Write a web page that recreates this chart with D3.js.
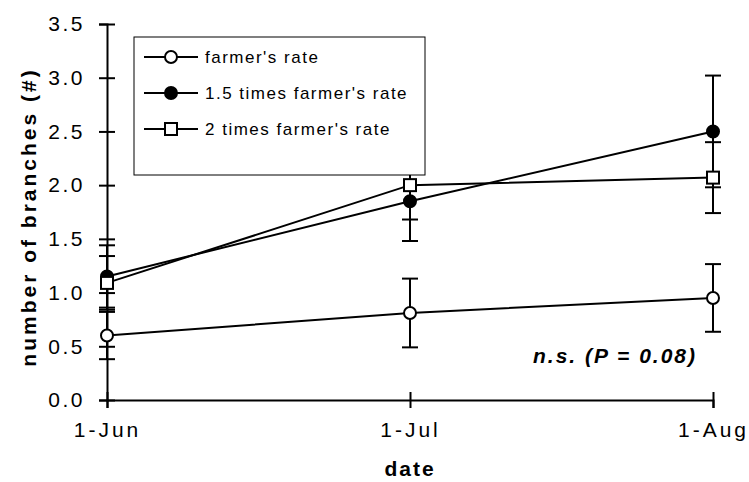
<!DOCTYPE html>
<html>
<head>
<meta charset="utf-8">
<script src="https://cdn.jsdelivr.net/npm/d3@7"></script>
<style>
  body { margin: 0; background: #fff; }
  text { font-family: Arial, "Liberation Sans", sans-serif; }
</style>
</head>
<body>
<div id="chart"></div>
<script>
var dates = ["1-Jun", "1-Jul", "1-Aug"];
var yTicks = [0, 0.5, 1, 1.5, 2, 2.5, 3, 3.5];

var seriesNames = ["farmer's rate", "1.5 times farmer's rate", "2 times farmer's rate"];
var farmerRate = [0.60, 0.81, 0.95];
var farmerErr = [0.22, 0.32, 0.315];
var rate15 = [1.15, 1.85, 2.50];
var rate15Err = [0.29, 0.37, 0.52];
var rate2 = [1.09, 2.00, 2.07];
var rate2Err = [0.25, 0.32, 0.33];

(function () {
  var width = 749,
    height = 482;

  var svg = d3.select("#chart")
    .append("svg")
    .attr("width", width)
    .attr("height", height);

  var x = d3.scalePoint().domain(dates).range([107, 713]);
  var y = d3.scaleLinear().domain([0, 3.5]).range([400, 24]);

  var series = [
    { name: seriesNames[0], values: farmerRate, err: farmerErr, marker: "circle", fill: "#fff" },
    { name: seriesNames[1], values: rate15, err: rate15Err, marker: "circle", fill: "#000" },
    { name: seriesNames[2], values: rate2, err: rate2Err, marker: "square", fill: "#fff" }
  ];

  // axes
  var yAxis = svg.append("g")
    .attr("transform", "translate(107,0)")
    .call(d3.axisLeft(y).tickValues(yTicks).tickSizeOuter(0).tickSize(8).tickPadding(14)
      .tickFormat(d3.format(".1f")));
  yAxis.selectAll(".tick line").attr("x1", 8).attr("stroke-width", 2);
  yAxis.select(".domain").attr("stroke-width", 2);
  yAxis.selectAll("text")
    .style("font-size", "21px")
    .style("letter-spacing", "2.5px")
    .attr("fill", "#000");

  var xAxis = svg.append("g")
    .attr("transform", "translate(0,400)")
    .call(d3.axisBottom(x).tickSizeOuter(0).tickSize(8).tickPadding(14));
  xAxis.selectAll(".tick line").attr("y1", -8).attr("stroke-width", 2);
  xAxis.select(".domain").attr("stroke-width", 2);
  xAxis.selectAll("text")
    .style("font-size", "21px")
    .style("letter-spacing", "3px")
    .attr("fill", "#000");

  // error bars
  series.forEach(function (s) {
    var g = svg.append("g");
    dates.forEach(function (d, i) {
      var cx = x(d),
        hi = y(s.values[i] + s.err[i]),
        lo = y(s.values[i] - s.err[i]);
      g.append("line").attr("x1", cx).attr("x2", cx).attr("y1", hi).attr("y2", lo)
        .attr("stroke", "#000").attr("stroke-width", 2);
      [hi, lo].forEach(function (yy) {
        g.append("line").attr("x1", cx - 8).attr("x2", cx + 8).attr("y1", yy).attr("y2", yy)
          .attr("stroke", "#000").attr("stroke-width", 2);
      });
    });
  });

  var line = d3.line()
    .x(function (d, i) { return x(dates[i]); })
    .y(function (d) { return y(d); });

  series.forEach(function (s) {
    svg.append("path")
      .datum(s.values)
      .attr("d", line)
      .attr("fill", "none")
      .attr("stroke", "#000")
      .attr("stroke-width", 2);
  });

  function drawMarker(g, s, cx, cy) {
    if (s.marker === "circle") {
      g.append("circle").attr("cx", cx).attr("cy", cy).attr("r", 6)
        .attr("fill", s.fill).attr("stroke", "#000").attr("stroke-width", 2);
    } else {
      g.append("rect").attr("x", cx - 6).attr("y", cy - 6).attr("width", 12).attr("height", 12)
        .attr("fill", s.fill).attr("stroke", "#000").attr("stroke-width", 2);
    }
  }

  series.forEach(function (s) {
    var g = svg.append("g");
    s.values.forEach(function (v, i) {
      drawMarker(g, s, x(dates[i]), y(v));
    });
  });

  // legend
  var legend = svg.append("g");
  legend.append("rect")
    .attr("x", 134).attr("y", 37).attr("width", 291).attr("height", 138)
    .attr("fill", "#fff").attr("stroke", "#000").attr("stroke-width", 1);
  series.forEach(function (s, i) {
    var ly = 57 + i * 36;
    legend.append("line").attr("x1", 144).attr("x2", 198).attr("y1", ly).attr("y2", ly)
      .attr("stroke", "#000").attr("stroke-width", 2);
    drawMarker(legend, s, 171, ly);
    legend.append("text")
      .attr("x", 205).attr("y", ly + 6)
      .style("font-size", "17px")
      .style("letter-spacing", "1.5px")
      .text(s.name);
  });

  // titles
  svg.append("text")
    .attr("transform", "translate(36,217) rotate(-90)")
    .attr("text-anchor", "middle")
    .style("font-size", "21px")
    .style("font-weight", "bold")
    .style("letter-spacing", "3px")
    .text("number of branches (#)");

  svg.append("text")
    .attr("x", 410).attr("y", 476)
    .attr("text-anchor", "middle")
    .style("font-size", "21px")
    .style("font-weight", "bold")
    .style("letter-spacing", "2px")
    .text("date");

  svg.append("text")
    .attr("x", 697).attr("y", 363)
    .attr("text-anchor", "end")
    .style("font-size", "21px")
    .style("font-weight", "bold")
    .style("font-style", "italic")
    .style("letter-spacing", "2px")
    .text("n.s. (P = 0.08)");
})();
</script>
</body>
</html>
